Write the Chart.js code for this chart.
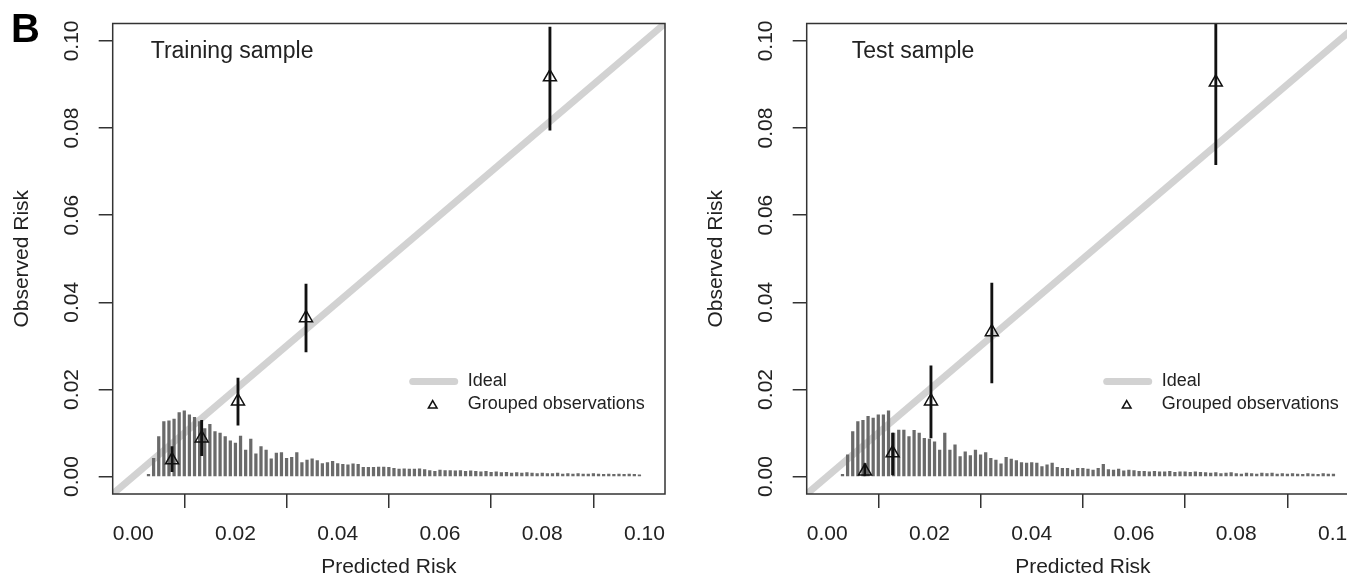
<!DOCTYPE html>
<html>
<head>
<meta charset="utf-8">
<script src="https://cdn.jsdelivr.net/npm/chart.js@4.4.1/dist/chart.umd.min.js"></script>
<style>
  html, body { margin: 0; padding: 0; background: #fff; overflow: hidden; }
  #wrap { position: relative; width: 1347px; height: 580px; overflow: hidden; }
  .panel { position: absolute; top: 0; width: 694px; height: 580px; }
</style>
</head>
<body>
<div id="wrap">
  <div class="panel" style="left:0"><canvas id="train"></canvas></div>
  <div class="panel" style="left:694px"><canvas id="test"></canvas></div>
</div>
<script>
// axis ticks
const tickVals = [0, 0.02, 0.04, 0.06, 0.08, 0.10];
const tickLabels = ['0.00', '0.02', '0.04', '0.06', '0.08', '0.10'];

// ideal line
const idealX = [-0.004, 0.104];
const idealY = [-0.004, 0.104];

// spike histogram of predicted risk (bin positions)
const histX = [0.003, 0.004, 0.005, 0.006, 0.007, 0.008, 0.009, 0.010,
  0.011, 0.012, 0.013, 0.014, 0.015, 0.016, 0.017, 0.018, 0.019, 0.020,
  0.021, 0.022, 0.023, 0.024, 0.025, 0.026, 0.027, 0.028, 0.029, 0.030,
  0.031, 0.032, 0.033, 0.034, 0.035, 0.036, 0.037, 0.038, 0.039, 0.040,
  0.041, 0.042, 0.043, 0.044, 0.045, 0.046, 0.047, 0.048, 0.049, 0.050,
  0.051, 0.052, 0.053, 0.054, 0.055, 0.056, 0.057, 0.058, 0.059, 0.060,
  0.061, 0.062, 0.063, 0.064, 0.065, 0.066, 0.067, 0.068, 0.069, 0.070,
  0.071, 0.072, 0.073, 0.074, 0.075, 0.076, 0.077, 0.078, 0.079, 0.080,
  0.081, 0.082, 0.083, 0.084, 0.085, 0.086, 0.087, 0.088, 0.089, 0.090,
  0.091, 0.092, 0.093, 0.094, 0.095, 0.096, 0.097, 0.098, 0.099];

const trainHist = [0.0005, 0.0042, 0.0092, 0.0126, 0.0128, 0.0132, 0.0147, 0.0151,
  0.0142, 0.0136, 0.0126, 0.0110, 0.0120, 0.0103, 0.0100, 0.0092, 0.0082, 0.0077,
  0.0093, 0.0061, 0.0086, 0.0052, 0.0069, 0.0061, 0.0041, 0.0054, 0.0055, 0.0042,
  0.0044, 0.0055, 0.0032, 0.0038, 0.0041, 0.0037, 0.0030, 0.0032, 0.0035, 0.0030,
  0.0028, 0.0027, 0.0029, 0.0028, 0.0021, 0.0021, 0.0021, 0.0022, 0.0022, 0.0021,
  0.0019, 0.0017, 0.0018, 0.0017, 0.0017, 0.0018, 0.0016, 0.0014, 0.0012, 0.0015,
  0.0014, 0.0014, 0.0013, 0.0014, 0.0012, 0.0013, 0.0012, 0.0011, 0.0012, 0.0010,
  0.0011, 0.0009, 0.0010, 0.0008, 0.0009, 0.0008, 0.0009, 0.0008, 0.0007, 0.0008,
  0.0007, 0.0007, 0.0008, 0.0006, 0.0007, 0.0006, 0.0007, 0.0006, 0.0006, 0.0007,
  0.0006, 0.0005, 0.0006, 0.0005, 0.0006, 0.0005, 0.0006, 0.0005, 0.0004];

const testHist = [0.0005, 0.0050, 0.0103, 0.0126, 0.0129, 0.0138, 0.0134, 0.0142,
  0.0142, 0.0151, 0.0100, 0.0107, 0.0107, 0.0092, 0.0106, 0.0100, 0.0088, 0.0086,
  0.0080, 0.0061, 0.0100, 0.0061, 0.0073, 0.0046, 0.0057, 0.0048, 0.0061, 0.0050,
  0.0055, 0.0042, 0.0038, 0.0029, 0.0044, 0.0040, 0.0037, 0.0032, 0.0031, 0.0032,
  0.0031, 0.0023, 0.0027, 0.0031, 0.0021, 0.0019, 0.0019, 0.0015, 0.0019, 0.0019,
  0.0017, 0.0015, 0.0019, 0.0028, 0.0016, 0.0015, 0.0017, 0.0013, 0.0015, 0.0014,
  0.0012, 0.0012, 0.0011, 0.0012, 0.0011, 0.0011, 0.0012, 0.0010, 0.0011, 0.0011,
  0.0010, 0.0011, 0.0010, 0.0009, 0.0008, 0.0009, 0.0007, 0.0008, 0.0009, 0.0007,
  0.0006, 0.0008, 0.0007, 0.0006, 0.0008, 0.0007, 0.0008, 0.0006, 0.0007, 0.0006,
  0.0007, 0.0006, 0.0005, 0.0007, 0.0006, 0.0005, 0.0007, 0.0006, 0.0006];

// grouped observations (predicted, observed, CI low, CI high)
const trainPred = [0.0076, 0.0134, 0.0205, 0.0338, 0.0815];
const trainObs  = [0.0038, 0.0088, 0.0173, 0.0364, 0.0917];
const trainLo   = [0.0011, 0.0048, 0.0118, 0.0286, 0.0795];
const trainHi   = [0.0069, 0.0129, 0.0226, 0.0442, 0.1032];

const testPred = [0.0074, 0.0128, 0.0203, 0.0322, 0.0760];
const testObs  = [0.0012, 0.0054, 0.0173, 0.0332, 0.0905];
const testLo   = [0.0000, 0.0004, 0.0089, 0.0215, 0.0716];
const testHi   = [0.0030, 0.0100, 0.0254, 0.0444, 0.1060];

const FONT = '"Liberation Sans", Arial, Helvetica, sans-serif';
const IDEAL_COL = '#d2d2d2';
Chart.defaults.font.family = FONT;
Chart.defaults.color = '#222';

const framePlugin = {
  id: 'frame',
  afterDraw(chart, args, opts) {
    const ctx = chart.ctx;
    const a = chart.chartArea;
    ctx.save();
    ctx.strokeStyle = '#333';
    ctx.lineWidth = 1.5;
    ctx.strokeRect(a.left, a.top, a.right - a.left, a.bottom - a.top);

    ctx.fillStyle = '#222';
    ctx.font = '23px ' + FONT;
    ctx.textBaseline = 'alphabetic';
    ctx.fillText(opts.title, a.left + opts.titleDx, a.top + 34);

    if (opts.letter) {
      ctx.font = 'bold 40px ' + FONT;
      ctx.fillStyle = '#000';
      ctx.fillText(opts.letter, 11, 42);
    }

    // legend
    const lx = a.left + 300, ly = a.top + 358;
    ctx.strokeStyle = IDEAL_COL;
    ctx.lineWidth = 7;
    ctx.lineCap = 'round';
    ctx.beginPath();
    ctx.moveTo(lx, ly);
    ctx.lineTo(lx + 42, ly);
    ctx.stroke();
    ctx.lineCap = 'butt';
    ctx.strokeStyle = '#111';
    ctx.fillStyle = 'rgba(0,0,0,0)';
    ctx.lineWidth = 1.5;
    Chart.helpers.drawPoint(ctx, {pointStyle: 'triangle', radius: 5, borderWidth: 1.5,
      rotation: 0}, lx + 20, ly + 24);
    ctx.fillStyle = '#222';
    ctx.font = '18px ' + FONT;
    ctx.textBaseline = 'middle';
    ctx.fillText('Ideal', a.left + 355, ly);
    ctx.fillText('Grouped observations', a.left + 355, ly + 23);
    ctx.restore();
  }
};

function makeChart(id, hist, pred, obs, lo, hi, title, titleDx, letter) {
  const axisCommon = {
    type: 'linear',
    min: -0.004,
    max: 0.104,
    afterBuildTicks(scale) {
      scale.ticks = tickVals.map(v => ({value: v}));
    },
    grid: {drawOnChartArea: false, drawTicks: true, tickLength: 14, color: '#333', lineWidth: 1.5},
    border: {display: false}
  };
  return new Chart(document.getElementById(id), {
    type: 'scatter',
    data: {
      datasets: [
        {
          type: 'line',
          order: 4,
          data: idealX.map((x, i) => ({x: x, y: idealY[i]})),
          borderColor: IDEAL_COL,
          borderWidth: 7,
          pointRadius: 0,
          showLine: true,
          clip: 0
        },
        {
          type: 'bar',
          order: 3,
          data: histX.map((x, i) => ({x: x, y: hist[i]})),
          backgroundColor: '#6a6a6a',
          barThickness: 2.6,
          grouped: false,
          clip: 0
        },
        {
          type: 'bar',
          order: 2,
          data: pred.map((x, i) => ({x: x, y: [lo[i], hi[i]]})),
          backgroundColor: '#111',
          barThickness: 2.2,
          grouped: false,
          clip: 0
        },
        {
          type: 'scatter',
          order: 1,
          data: pred.map((x, i) => ({x: x, y: obs[i]})),
          pointStyle: 'triangle',
          pointRadius: 7.5,
          borderWidth: 1.5,
          borderColor: '#111',
          backgroundColor: 'rgba(0,0,0,0)',
          clip: 0
        }
      ]
    },
    options: {
      responsive: true,
      maintainAspectRatio: false,
      animation: false,
      events: [],
      layout: {padding: {left: 0, top: 23.5, right: 29, bottom: 0}},
      plugins: {
        legend: {display: false},
        tooltip: {enabled: false},
        frame: {title: title, titleDx: titleDx, letter: letter}
      },
      scales: {
        x: Object.assign({}, axisCommon, {
          offset: false,
          ticks: {
            padding: 14,
            font: {size: 21},
            color: '#222',
            maxRotation: 0,
            autoSkip: false,
            callback: (v) => tickLabels[tickVals.indexOf(v)]
          },
          title: {display: true, text: 'Predicted Risk', font: {size: 21}, color: '#222', padding: {top: 0, bottom: 0}},
          afterFit(scale) {
            scale.height = 86;
            scale.paddingLeft = 0;
            scale.paddingRight = 0;
          }
        }),
        y: Object.assign({}, axisCommon, {
          ticks: {
            padding: 6,
            font: {size: 21},
            color: '#222',
            minRotation: 90,
            maxRotation: 90,
            crossAlign: 'center',
            autoSkip: false,
            callback: (v) => tickLabels[tickVals.indexOf(v)]
          },
          title: {display: true, text: 'Observed Risk', font: {size: 21}, color: '#222', padding: {top: 10, bottom: 0}},
          afterFit(scale) {
            scale.width = 112.7;
            scale.paddingTop = 0;
            scale.paddingBottom = 0;
          }
        })
      }
    },
    plugins: [framePlugin]
  });
}

makeChart('train', trainHist, trainPred, trainObs, trainLo, trainHi, 'Training sample', 38, 'B');
makeChart('test', testHist, testPred, testObs, testLo, testHi, 'Test sample', 45, null);
</script>
</body>
</html>
